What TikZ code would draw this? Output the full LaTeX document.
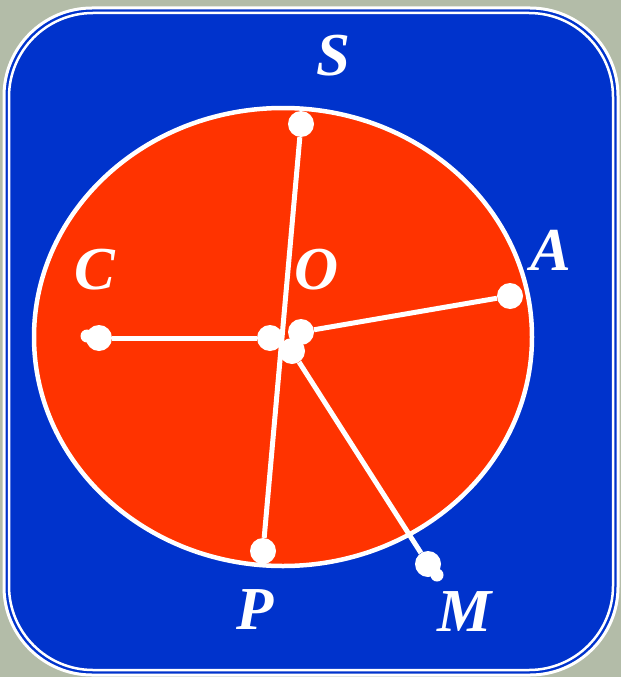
\documentclass[tikz,border=0pt]{standalone}
\usepackage{fontspec}
\setmainfont{Liberation Serif}
\usetikzlibrary{backgrounds}
\definecolor{bgc}{HTML}{B3BCA8}
\definecolor{panel}{HTML}{0033CC}
\definecolor{disc}{HTML}{FF3300}
\begin{document}
\begin{tikzpicture}[x=1pt,y=-1pt,
  dot/.style={circle,fill=white,inner sep=0pt,minimum size=26pt},
  smalldot/.style={circle,fill=white,inner sep=0pt,minimum size=13pt},
  ray/.style={white,line width=5pt},
  lbl/.style={text=white,font=\fontsize{61}{66}\selectfont\bfseries\itshape,inner sep=0pt}]
\useasboundingbox (0,0) rectangle (621,677);
% dots
\node[smalldot] (c2) at (87,336) {};
\node[smalldot] (m2) at (437,575) {};
\node[dot] (s) at (301,124) {};
\node[dot] (a) at (510,296) {};
\node[dot] (c) at (99,338) {};
\node[dot] (p) at (263,551) {};
\node[dot] (m) at (428,564) {};
\node[dot] (o1) at (270,338) {};
\node[dot] (o2) at (301,332) {};
\node[dot] (o3) at (292,351) {};
\begin{scope}[on background layer]
\fill[bgc] (0,0) rectangle (621,677);
\fill[panel,rounded corners=88pt] (4,8) rectangle (618,675);
\draw[white,line width=3pt,rounded corners=88pt] (4,8) rectangle (618,675);
\draw[white,line width=2.5pt,rounded corners=84pt] (9,13) rectangle (613,670);
\draw[white,line width=4.5pt,fill=disc] (283,337) ellipse [x radius=249, y radius=229];
\draw[ray] (s) -- (p);
\draw[ray] (c) -- (o1);
\draw[ray] (o2) -- (a);
\draw[ray] (o3) -- (m);
\end{scope}
\node[lbl] (ls) at (333,56) {S};
\node[lbl] (lc) at (95,270) {C};
\node[lbl] (lo) at (317,270) {O};
\node[lbl] (la) at (551,250) {A};
\node[lbl] (lp) at (255,610) {P};
\node[lbl] (lm) at (465,612) {M};
\end{tikzpicture}
\end{document}
